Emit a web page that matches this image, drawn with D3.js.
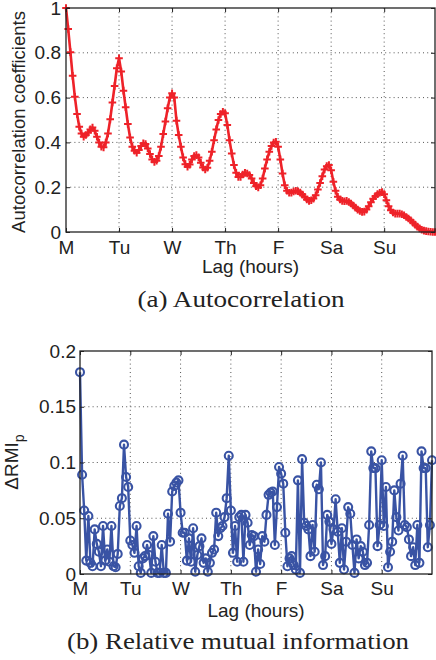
<!DOCTYPE html>
<html>
<head>
<meta charset="utf-8">
<script src="https://cdn.jsdelivr.net/npm/d3@7"></script>
<style>
  body { margin: 0; background: #fff; }
  svg text { font-family: "Liberation Sans", Arial, sans-serif; }
</style>
</head>
<body>
<svg id="chart" width="436" height="660"></svg>
<script>
// day ticks shared by both panels
var dayLabels = ["M", "Tu", "W", "Th", "F", "Sa", "Su"];
var dayTicks = [0, 24, 48, 72, 96, 120, 144];
var acfTicks = [0, 0.2, 0.4, 0.6, 0.8, 1];
var rmiTicks = [0, 0.05, 0.1, 0.15, 0.2];

// (a) autocorrelation, lag 0..167 hours
var acf = [
  1.000, 0.906, 0.803, 0.697, 0.604, 0.527, 0.470, 0.440, 0.425, 0.433,
  0.443, 0.458, 0.466, 0.452, 0.425, 0.399, 0.381, 0.378, 0.399, 0.440,
  0.503, 0.578, 0.652, 0.731, 0.776, 0.716, 0.631, 0.557, 0.482, 0.422,
  0.381, 0.363, 0.354, 0.366, 0.384, 0.396, 0.393, 0.373, 0.348, 0.324,
  0.313, 0.318, 0.339, 0.381, 0.437, 0.493, 0.552, 0.600, 0.619, 0.600,
  0.497, 0.433, 0.381, 0.333, 0.303, 0.291, 0.301, 0.324, 0.339, 0.343,
  0.333, 0.309, 0.288, 0.279, 0.287, 0.318, 0.358, 0.410, 0.458, 0.500,
  0.527, 0.537, 0.530, 0.478, 0.410, 0.351, 0.299, 0.264, 0.246, 0.246,
  0.257, 0.264, 0.261, 0.254, 0.239, 0.219, 0.204, 0.199, 0.209, 0.239,
  0.284, 0.324, 0.358, 0.384, 0.399, 0.403, 0.381, 0.324, 0.261, 0.209,
  0.184, 0.175, 0.176, 0.181, 0.184, 0.182, 0.176, 0.167, 0.157, 0.145,
  0.139, 0.142, 0.149, 0.164, 0.190, 0.219, 0.249, 0.279, 0.294, 0.299,
  0.276, 0.224, 0.184, 0.157, 0.145, 0.139, 0.137, 0.139, 0.134, 0.127,
  0.118, 0.109, 0.100, 0.094, 0.090, 0.091, 0.100, 0.115, 0.133, 0.148,
  0.160, 0.169, 0.175, 0.178, 0.169, 0.142, 0.115, 0.097, 0.087, 0.082,
  0.082, 0.082, 0.079, 0.075, 0.067, 0.060, 0.052, 0.042, 0.033, 0.024,
  0.016, 0.010, 0.006, 0.004, 0.002, 0.001, 0.000, 0.000
];

// (b) relative mutual information, lag 0..168 hours
var drmi = [
  0.181, 0.089, 0.057, 0.012, 0.052, 0.010, 0.007, 0.040, 0.027, 0.020,
  0.007, 0.043, 0.012, 0.022, 0.011, 0.043, 0.007, 0.006, 0.018, 0.061,
  0.068, 0.116, 0.087, 0.078, 0.030, 0.026, 0.019, 0.043, 0.007, 0.001,
  0.014, 0.016, 0.026, 0.017, 0.001, 0.034, 0.011, 0.001, 0.001, 0.026,
  0.001, 0.001, 0.054, 0.029, 0.074, 0.079, 0.082, 0.084, 0.055, 0.037,
  0.037, 0.012, 0.032, 0.011, 0.041, 0.002, 0.017, 0.025, 0.032, 0.010,
  0.014, 0.002, 0.010, 0.019, 0.022, 0.055, 0.034, 0.041, 0.043, 0.051,
  0.068, 0.106, 0.057, 0.019, 0.043, 0.011, 0.051, 0.053, 0.011, 0.053,
  0.046, 0.026, 0.035, 0.034, 0.002, 0.022, 0.009, 0.034, 0.029, 0.053,
  0.071, 0.073, 0.074, 0.026, 0.060, 0.096, 0.090, 0.081, 0.037, 0.007,
  0.014, 0.016, 0.008, 0.004, 0.084, 0.001, 0.103, 0.046, 0.043, 0.040,
  0.016, 0.044, 0.020, 0.080, 0.076, 0.100, 0.008, 0.016, 0.053, 0.047,
  0.027, 0.040, 0.067, 0.038, 0.010, 0.041, 0.004, 0.029, 0.060, 0.054,
  0.026, 0.001, 0.031, 0.014, 0.025, 0.020, 0.008, 0.010, 0.044, 0.110,
  0.095, 0.095, 0.025, 0.044, 0.102, 0.043, 0.078, 0.006, 0.020, 0.029,
  0.075, 0.051, 0.039, 0.081, 0.106, 0.044, 0.042, 0.031, 0.016, 0.024,
  0.008, 0.044, 0.010, 0.110, 0.095, 0.095, 0.024, 0.044, 0.102
];

var svg = d3.select("#chart");
var FS = 19;

function drawPanel(cfg) {
    var x = d3.scaleLinear().domain(cfg.xDomain).range([cfg.left, cfg.right]);
    var y = d3.scaleLinear().domain(cfg.yDomain).range([cfg.bottom, cfg.top]);
    var g = svg.append("g");

    // dotted grid
    var grid = g.append("g")
        .attr("stroke", "#555")
        .attr("stroke-width", 1)
        .attr("stroke-dasharray", "1,3.2");
    grid.selectAll(".gx").data(dayTicks.slice(1)).join("line")
        .attr("x1", d => x(d)).attr("x2", d => x(d))
        .attr("y1", cfg.top).attr("y2", cfg.bottom);
    grid.selectAll(".gy").data(cfg.yTicks.slice(1, -1)).join("line")
        .attr("x1", cfg.left).attr("x2", cfg.right)
        .attr("y1", d => y(d)).attr("y2", d => y(d));

    // data line
    var line = d3.line().x((d, i) => x(i)).y(d => y(d));
    g.append("path")
        .datum(cfg.values)
        .attr("fill", "none")
        .attr("stroke", cfg.color)
        .attr("stroke-width", cfg.lineW)
        .attr("stroke-linejoin", "round")
        .attr("d", line);

    // markers
    var marks = g.append("g")
        .selectAll("path")
        .data(cfg.values)
        .join("path")
        .attr("transform", (d, i) => `translate(${x(i)},${y(d)})`)
        .attr("fill", "none")
        .attr("stroke", cfg.color);
    if (cfg.marker === "plus") {
        marks.attr("d", "M-3.8,0H3.8M0,-3.8V3.8").attr("stroke-width", 2);
    } else {
        marks.attr("d", d3.symbol(d3.symbolCircle, 50)()).attr("stroke-width", 2.1);
    }

    // axes, ticks inward on all sides
    var xb = g.append("g")
        .attr("transform", `translate(0,${cfg.bottom})`)
        .call(d3.axisBottom(x).tickValues(dayTicks)
            .tickFormat((d, i) => dayLabels[i])
            .tickSizeInner(-4).tickSizeOuter(0).tickPadding(cfg.xPad));
    var xt = g.append("g")
        .attr("transform", `translate(0,${cfg.top})`)
        .call(d3.axisTop(x).tickValues(dayTicks).tickFormat("")
            .tickSizeInner(-4).tickSizeOuter(0));
    var yl = g.append("g")
        .attr("transform", `translate(${cfg.left},0)`)
        .call(d3.axisLeft(y).tickValues(cfg.yTicks).tickFormat(d => String(d))
            .tickSizeInner(-4).tickSizeOuter(0).tickPadding(cfg.yPad));
    var yr = g.append("g")
        .attr("transform", `translate(${cfg.right},0)`)
        .call(d3.axisRight(y).tickValues(cfg.yTicks).tickFormat("")
            .tickSizeInner(-4).tickSizeOuter(0));
    [xb, xt, yl, yr].forEach(a => {
        a.select(".domain").remove();
        a.attr("font-size", FS).attr("font-family", null);
        a.selectAll("line").attr("stroke", "#222");
        a.selectAll("text").attr("fill", "#222");
    });

    // box
    g.append("rect")
        .attr("x", cfg.left).attr("y", cfg.top)
        .attr("width", cfg.right - cfg.left).attr("height", cfg.bottom - cfg.top)
        .attr("fill", "none").attr("stroke", "#222").attr("stroke-width", 1.3);

    // x title
    g.append("text")
        .attr("x", (cfg.left + cfg.right) / 2).attr("y", cfg.xTitleY)
        .attr("text-anchor", "middle").attr("font-size", FS).attr("fill", "#222")
        .text("Lag (hours)");

    // caption
    g.append("text")
        .attr("x", cfg.capX).attr("y", cfg.capY)
        .attr("text-anchor", "middle")
        .style("font-family", '"Liberation Serif", "DejaVu Serif", serif')
        .attr("font-size", 24).attr("fill", "#222")
        .attr("textLength", cfg.capW).attr("lengthAdjust", "spacingAndGlyphs")
        .text(cfg.caption);

    return g;
}

var ga = drawPanel({
    left: 66, right: 435, top: 8, bottom: 232,
    xDomain: [0, 167], yDomain: [0, 1], yTicks: acfTicks,
    values: acf, color: "#ee2229", marker: "plus", lineW: 2.6,
    xPad: 8.5, yPad: 5, xTitleY: 273,
    caption: "(a) Autocorrelation", capX: 241, capY: 307, capW: 207
});
ga.append("text")
    .attr("transform", "translate(25,122) rotate(-90)")
    .attr("text-anchor", "middle").attr("font-size", 18.5).attr("fill", "#222")
    .text("Autocorrelation coefficients");

var gb = drawPanel({
    left: 80, right: 432, top: 351, bottom: 574,
    xDomain: [0, 168], yDomain: [0, 0.2], yTicks: rmiTicks,
    values: drmi, color: "#3953a4", marker: "circle", lineW: 2.4,
    xPad: 7.5, yPad: 4, xTitleY: 617,
    caption: "(b) Relative mutual information", capX: 238, capY: 649, capW: 342
});
var yt = gb.append("text")
    .attr("transform", "translate(18,462) rotate(-90)")
    .attr("text-anchor", "middle").attr("font-size", FS).attr("fill", "#222");
yt.append("tspan").text("ΔRMI");
yt.append("tspan").attr("font-size", 14).attr("dy", "0.45em").text("p");
</script>
</body>
</html>
